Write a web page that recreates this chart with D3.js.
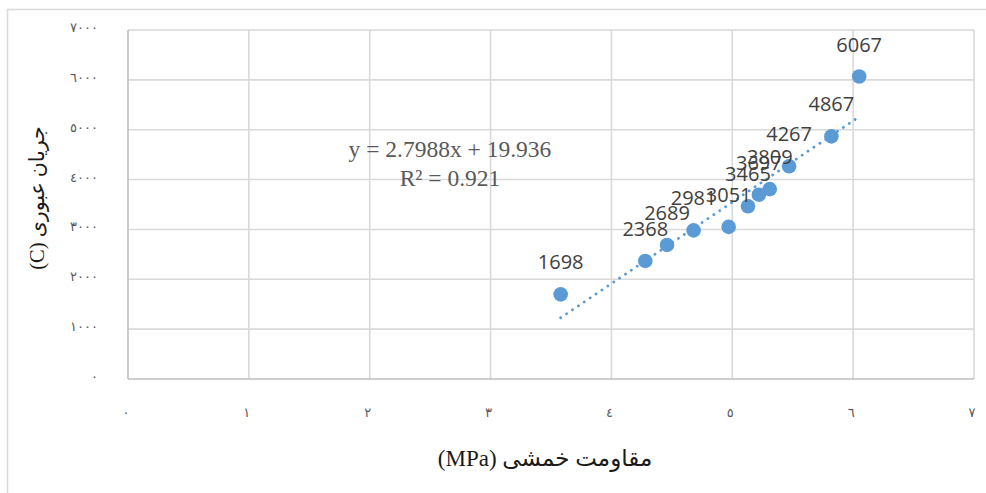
<!DOCTYPE html>
<html>
<head>
<meta charset="utf-8">
<script src="https://cdn.jsdelivr.net/npm/d3@7"></script>
<style>
  html, body { margin: 0; padding: 0; background: #fff; }
  svg { display: block; }
</style>
</head>
<body>
<svg id="chart" width="986" height="493"></svg>
<script>
// Flexural strength (MPa) against charge passed (C)
const strength = [3.58, 4.28, 4.46, 4.68, 4.97, 5.13, 5.22, 5.31, 5.47, 5.82, 6.05];
const charge   = [1698, 2368, 2689, 2981, 3051, 3465, 3697, 3809, 4267, 4867, 6067];

const xTicks = [0, 1, 2, 3, 4, 5, 6, 7];
const yTicks = [0, 1000, 2000, 3000, 4000, 5000, 6000, 7000];
const xTickLabels = ["٠", "١", "٢", "٣", "٤", "٥", "٦", "٧"];
const yTickLabels = ["٠", "١٠٠٠", "٢٠٠٠", "٣٠٠٠", "٤٠٠٠", "٥٠٠٠", "٦٠٠٠", "٧٠٠٠"];

const equationLines = ["y = 2.7988x + 19.936", "R² = 0.921"];
const xTitle = "(MPa) مقاومت خمشی";
const yTitle = "(C) جریان عبوری";

const svg = d3.select("#chart");
const plot = { left: 128, right: 974, top: 30, bottom: 379 };

const x = d3.scaleLinear().domain([0, 7]).range([plot.left, plot.right]);
const y = d3.scaleLinear().domain([0, 7000]).range([plot.bottom, plot.top]);

// outer frame of the chart area
svg.append("path")
  .attr("d", "M7.5,493 V9.5 H986")
  .attr("fill", "none").attr("stroke", "#d9d9d9").attr("stroke-width", 1.5);

// gridlines
const grid = svg.append("g").attr("stroke", "#d9d9d9").attr("stroke-width", 1.6);
grid.selectAll("line.v").data(xTicks.slice(1)).join("line")
  .attr("x1", d => x(d)).attr("x2", d => x(d))
  .attr("y1", plot.top).attr("y2", plot.bottom);
grid.selectAll("line.h").data(yTicks.slice(1)).join("line")
  .attr("x1", plot.left).attr("x2", plot.right)
  .attr("y1", d => y(d)).attr("y2", d => y(d));

// axis lines
svg.append("line")
  .attr("x1", plot.left).attr("x2", plot.right)
  .attr("y1", plot.bottom).attr("y2", plot.bottom)
  .attr("stroke", "#bfbfbf").attr("stroke-width", 1.6);
svg.append("line")
  .attr("x1", plot.left).attr("x2", plot.left)
  .attr("y1", plot.top).attr("y2", plot.bottom)
  .attr("stroke", "#bfbfbf").attr("stroke-width", 1.6);

// tick labels
const tickFont = "'Liberation Serif', 'DejaVu Sans', serif";
svg.append("g").selectAll("text").data(xTicks).join("text")
  .attr("x", d => x(d) - 2).attr("y", 417)
  .attr("text-anchor", "middle")
  .attr("font-family", tickFont).attr("font-size", 13).attr("fill", "#595959")
  .text((d, i) => xTickLabels[i]);
svg.append("g").selectAll("text").data(yTicks).join("text")
  .attr("x", 98).attr("y", d => y(d) + 2)
  .attr("text-anchor", "end")
  .attr("font-family", tickFont).attr("font-size", 13).attr("fill", "#595959")
  .attr("letter-spacing", 1.5)
  .text((d, i) => yTickLabels[i]);

// axis titles
svg.append("text")
  .attr("x", 545).attr("y", 466)
  .attr("text-anchor", "middle")
  .attr("font-family", tickFont).attr("font-size", 23).attr("fill", "#1a1a1a")
  .text(xTitle);
svg.append("text")
  .attr("transform", "translate(44,198) rotate(-90)")
  .attr("text-anchor", "middle")
  .attr("font-family", tickFont).attr("font-size", 20.5).attr("fill", "#1a1a1a")
  .text(yTitle);

// least-squares trendline through the points
const pts = strength.map((s, i) => ({ s, c: charge[i] }));
const mx = d3.mean(strength), my = d3.mean(charge);
const sxy = d3.sum(pts, p => (p.s - mx) * (p.c - my));
const sxx = d3.sum(pts, p => (p.s - mx) ** 2);
const slope = sxy / sxx, intercept = my - slope * mx;
const [sMin, sMax] = d3.extent(strength);
svg.append("line")
  .attr("x1", x(sMin)).attr("y1", y(intercept + slope * sMin))
  .attr("x2", x(sMax)).attr("y2", y(intercept + slope * sMax))
  .attr("stroke", "#5b9bd5").attr("stroke-width", 2.8)
  .attr("stroke-linecap", "round").attr("stroke-dasharray", "0.1 7");

// markers
svg.append("g").selectAll("circle").data(pts).join("circle")
  .attr("cx", d => x(d.s)).attr("cy", d => y(d.c)).attr("r", 7.3)
  .attr("fill", "#5b9bd5");

// data labels
svg.append("g").selectAll("text").data(pts).join("text")
  .attr("x", d => x(d.s)).attr("y", d => y(d.c) - 25)
  .attr("text-anchor", "middle")
  .attr("font-family", "'Open Sans', 'Liberation Sans', sans-serif")
  .attr("font-size", 20).attr("fill", "#404040")
  .text(d => d.c);

// trendline equation
svg.append("g").selectAll("text").data(equationLines).join("text")
  .attr("x", 450).attr("y", (d, i) => 157 + i * 29)
  .attr("text-anchor", "middle")
  .attr("font-family", "'Liberation Serif', serif")
  .attr("font-size", 23.5).attr("fill", "#595959")
  .text(d => d);
</script>
</body>
</html>
